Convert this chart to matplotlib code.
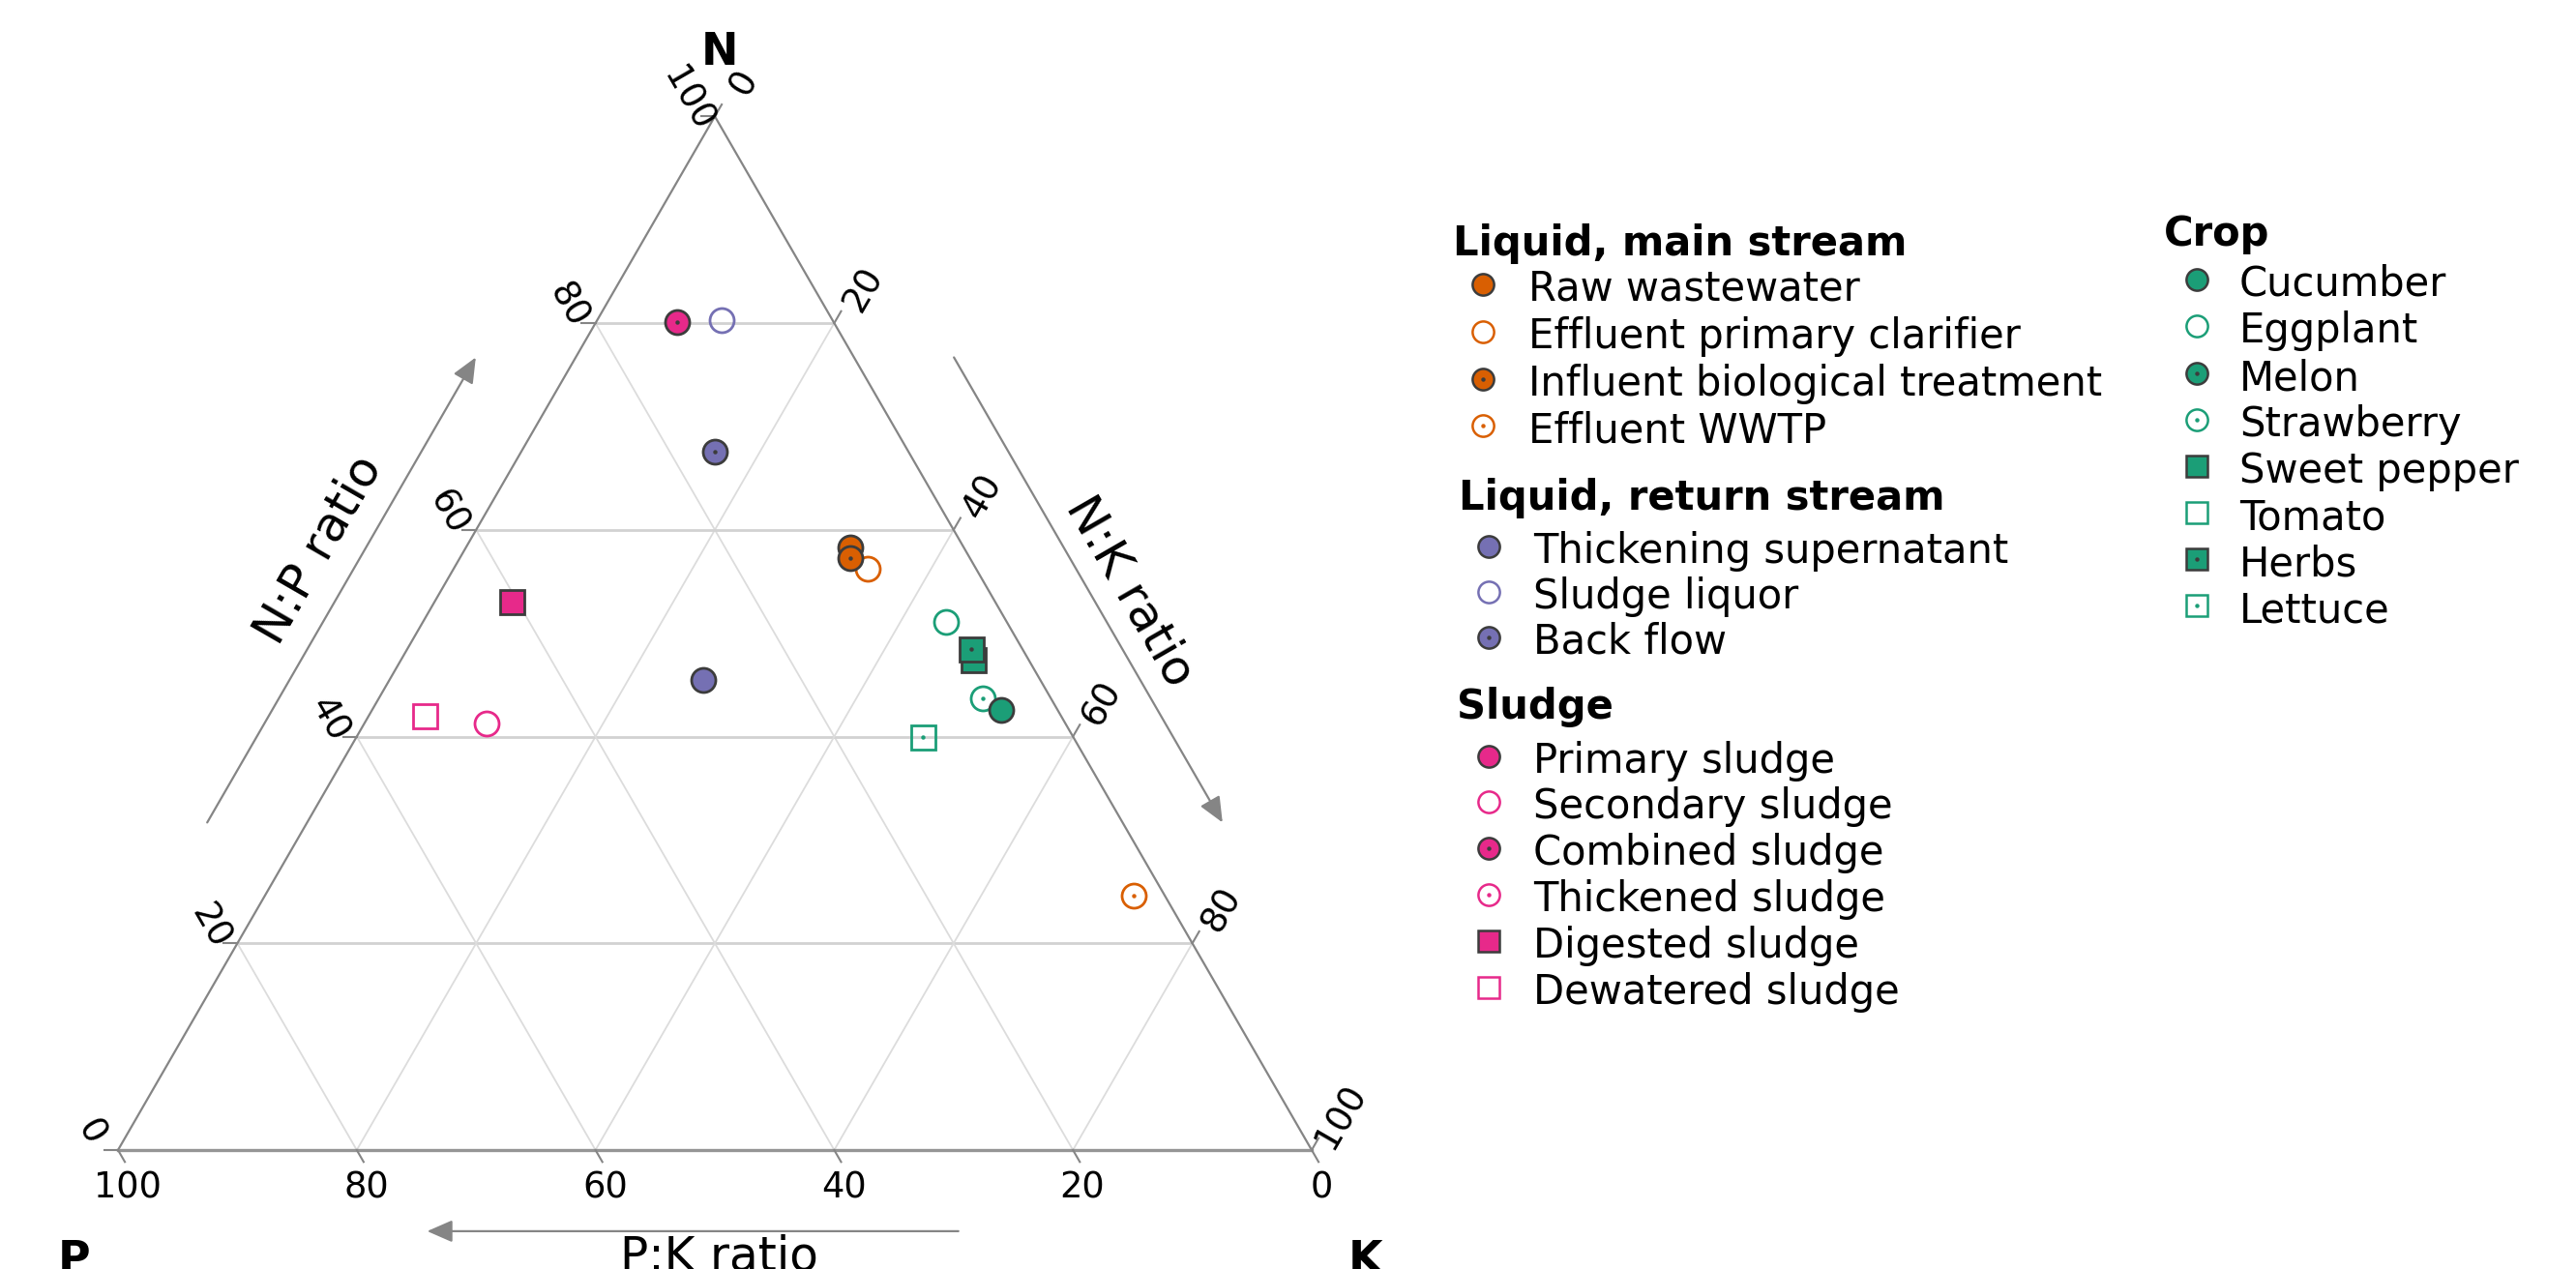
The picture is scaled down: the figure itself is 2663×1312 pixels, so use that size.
import numpy as np
import matplotlib
matplotlib.use("Agg")
import matplotlib.pyplot as plt

plt.rcParams['font.family'] = ['DejaVu Sans']

# ---------------- data: N, P, K shares (%) ----------------
main_labels = ["Raw wastewater", "Effluent primary clarifier",
               "Influent biological treatment", "Effluent WWTP"]
main_N = [58.3, 56.2, 57.3, 24.6]
main_P = [9.5, 9.1, 10.0, 2.6]
main_K = [32.2, 34.7, 32.7, 72.8]

return_labels = ["Thickening supernatant", "Sludge liquor", "Back flow"]
return_N = [45.5, 80.3, 67.6]
return_P = [28.2, 9.3, 16.2]
return_K = [26.3, 10.4, 16.2]

sludge_labels = ["Primary sludge", "Secondary sludge", "Combined sludge",
                 "Thickened sludge", "Digested sludge", "Dewatered sludge"]
sludge_N = [np.nan, 41.3, 80.1, np.nan, 53.1, 42.0]
sludge_P = [np.nan, 48.5, 13.1, np.nan, 40.5, 53.3]
sludge_K = [np.nan, 10.2, 6.8, np.nan, 6.4, 4.7]

crop_labels = ["Cucumber", "Eggplant", "Melon", "Strawberry",
               "Sweet pepper", "Tomato", "Herbs", "Lettuce"]
crop_N = [42.6, 51.1, np.nan, 43.7, 47.4, np.nan, 48.5, 40.0]
crop_P = [4.7, 5.1, np.nan, 5.7, 4.7, np.nan, 4.3, 12.6]
crop_K = [52.7, 43.8, np.nan, 50.6, 47.9, np.nan, 47.2, 47.4]

axis_ticks = [0, 20, 40, 60, 80, 100]
grid_vals = [20, 40, 60, 80]

# ---------------- style ----------------
ORANGE, PURPLE, PINK, GREEN = "#D95F02", "#7570B3", "#E7298A", "#1B9E77"
DARK = "#3c3c3c"
EDGE = "#858585"
GRID = "#dcdcdc"

groups = [
    dict(title="Liquid, main stream", labels=main_labels, N=main_N, P=main_P, K=main_K,
         color=ORANGE, markers=['o'] * 4, styles=['fill', 'open', 'filldot', 'opendot']),
    dict(title="Liquid, return stream", labels=return_labels, N=return_N, P=return_P, K=return_K,
         color=PURPLE, markers=['o'] * 3, styles=['fill', 'open', 'filldot']),
    dict(title="Sludge", labels=sludge_labels, N=sludge_N, P=sludge_P, K=sludge_K,
         color=PINK, markers=['o'] * 4 + ['s'] * 2,
         styles=['fill', 'open', 'filldot', 'opendot', 'fill', 'open']),
    dict(title="Crop", labels=crop_labels, N=crop_N, P=crop_P, K=crop_K,
         color=GREEN, markers=['o'] * 4 + ['s'] * 4,
         styles=['fill', 'open', 'filldot', 'opendot'] * 2),
]

# legend layout in pixels (header x, header baseline, marker x, text x, row y's)
legend_layout = [
    dict(hx=1502, hy=264, mx=1533, tx=1580, ys=[293.5, 343, 392, 440]),
    dict(hx=1508, hy=527, mx=1539, tx=1585, ys=[565, 612, 659]),
    dict(hx=1506, hy=743, mx=1539, tx=1585, ys=[782, 829, 877, 925, 973, 1021]),
    dict(hx=2237, hy=254, mx=2271, tx=2315, ys=[289, 337, 386, 434, 482, 530, 578, 626]),
]

W, H, DPI = 2663, 1312, 100
PX0, PY0, SC = 122, 1189, 12.34   # pixel position of P corner, pixels per unit
S = np.sqrt(3) / 2


def to_xy(N, P, K):
    N, P, K = (np.asarray(a, dtype=float) for a in (N, P, K))
    tot = N + P + K
    return 100 * (K / tot + 0.5 * N / tot), 100 * S * N / tot


fig = plt.figure(figsize=(W / DPI, H / DPI), dpi=DPI)
ax = fig.add_axes([0, 0, 1, 1])
ax.set_xlim(-PX0 / SC, (W - PX0) / SC)
ax.set_ylim((PY0 - H) / SC, PY0 / SC)
ax.axis('off')

# grid
for v in grid_vals:
    ax.plot([v / 2, 100 - v / 2], [v * S, v * S], color="#d2d2d2", lw=2.0, zorder=1,
            solid_capstyle='butt')
    ax.plot([100 - v, (100 - v) / 2], [0, (100 - v) * S], color=GRID, lw=1.3, zorder=1)
    ax.plot([v, v + (100 - v) / 2], [0, (100 - v) * S], color=GRID, lw=1.3, zorder=1)

# edges
ax.plot([0, 50, 100], [0, 100 * S, 0], color=EDGE, lw=1.6, zorder=2)
ax.plot([0, 100], [0, 0], color="#959595", lw=2.4, zorder=2)

# ticks and tick labels
TL = 1.15
for v in axis_ticks:
    # left axis (N)
    x0, y0 = v / 2, v * S
    ax.plot([x0, x0 - TL], [y0, y0], color=EDGE, lw=1.5, zorder=2)
    ax.text(x0 - 2.3, y0 + 1.45, str(v), rotation=-60, ha='center', va='center',
            fontsize=26.5, color='black')
    # right axis (K)
    x0, y0 = v + (100 - v) / 2, (100 - v) * S
    ax.plot([x0, x0 + TL * 0.5], [y0, y0 + TL * S], color=EDGE, lw=1.5, zorder=2)
    ax.text(x0 + 2.4, y0 + 2.8, str(v), rotation=60, ha='center', va='center',
            fontsize=26.5, color='black')
    # bottom axis (P)
    x0, y0 = 100 - v, 0
    ax.plot([x0, x0 + TL * 0.5], [y0, y0 - TL * S], color=EDGE, lw=1.5, zorder=2)
    ax.text(x0 + 0.8, y0 - 3.15, str(v), rotation=0, ha='center', va='center',
            fontsize=26.5, color='black')

# axis arrows
arrow_kw = dict(arrowstyle='-|>,head_length=0.8,head_width=0.35', color="#858585",
                lw=1.6, mutation_scale=20, shrinkA=0, shrinkB=0)
off = 7.25
u = np.array([0.5, S]); nl = np.array([-S, 0.5])
a0, a1 = 27.5 * u + off * nl, 72.5 * u + off * nl
ax.annotate('', xy=a1, xytext=a0, arrowprops=arrow_kw)
apex = np.array([50, 100 * S]); d = np.array([0.5, -S]); nr = np.array([S, 0.5])
b0, b1 = apex + 27.5 * d + off * nr, apex + 72.5 * d + off * nr
ax.annotate('', xy=b1, xytext=b0, arrowprops=arrow_kw)
ax.annotate('', xy=(25.9, -6.8), xytext=(70.4, -6.8), arrowprops=arrow_kw)

ax.text(16.8, 50.3, "N:P ratio", rotation=60, ha='center', va='center', fontsize=36)
ax.text(84.8, 46.8, "N:K ratio", rotation=-60, ha='center', va='center', fontsize=36)
ax.text(50.4, -10.1, "P:K ratio", ha='center', va='baseline', fontsize=35)

ax.text(50.4, 90.9, "N", ha='center', va='baseline', fontsize=33, fontweight='bold')
ax.text(-3.7, -10.3, "P", ha='center', va='baseline', fontsize=33, fontweight='bold')
ax.text(104.5, -10.3, "K", ha='center', va='baseline', fontsize=33, fontweight='bold')


def draw_marker(axis, x, y, color, marker, style, ms, mew, z):
    filled = style.startswith('fill')
    axis.plot(x, y, linestyle='none', marker=marker, markersize=ms,
              markerfacecolor=color if filled else 'none',
              markeredgecolor=DARK if filled else color,
              markeredgewidth=mew, zorder=z)
    if style.endswith('dot'):
        axis.plot(x, y, linestyle='none', marker='o', markersize=3.2,
                  markerfacecolor=DARK if filled else color,
                  markeredgewidth=0, zorder=z + 0.5)


# data points: open first, then filled
order = {'open': 0, 'opendot': 1, 'fill': 2, 'filldot': 3}
for st in ['open', 'opendot', 'fill', 'filldot']:
    for g in groups:
        xs, ys = to_xy(g['N'], g['P'], g['K'])
        for i in range(len(g['labels'])):
            if g['styles'][i] != st or np.isnan(xs[i]):
                continue
            draw_marker(ax, [xs[i]], [ys[i]], g['color'], g['markers'][i], st,
                        18, 2.0, 10 + order[st])

# ---------------- legend (pixel coordinates) ----------------
lax = fig.add_axes([0, 0, 1, 1])
lax.set_xlim(0, W)
lax.set_ylim(H, 0)
lax.axis('off')
for g, lay in zip(groups, legend_layout):
    lax.text(lay['hx'], lay['hy'], g['title'], fontsize=30, fontweight='bold',
             ha='left', va='baseline')
    for i, lab in enumerate(g['labels']):
        y = lay['ys'][i]
        draw_marker(lax, [lay['mx']], [y], g['color'], g['markers'][i], g['styles'][i],
                    16, 1.8, 5)
        lax.text(lay['tx'], y + 17, lab, fontsize=30, ha='left', va='baseline')

fig.savefig("out.png", dpi=DPI, facecolor='white')
